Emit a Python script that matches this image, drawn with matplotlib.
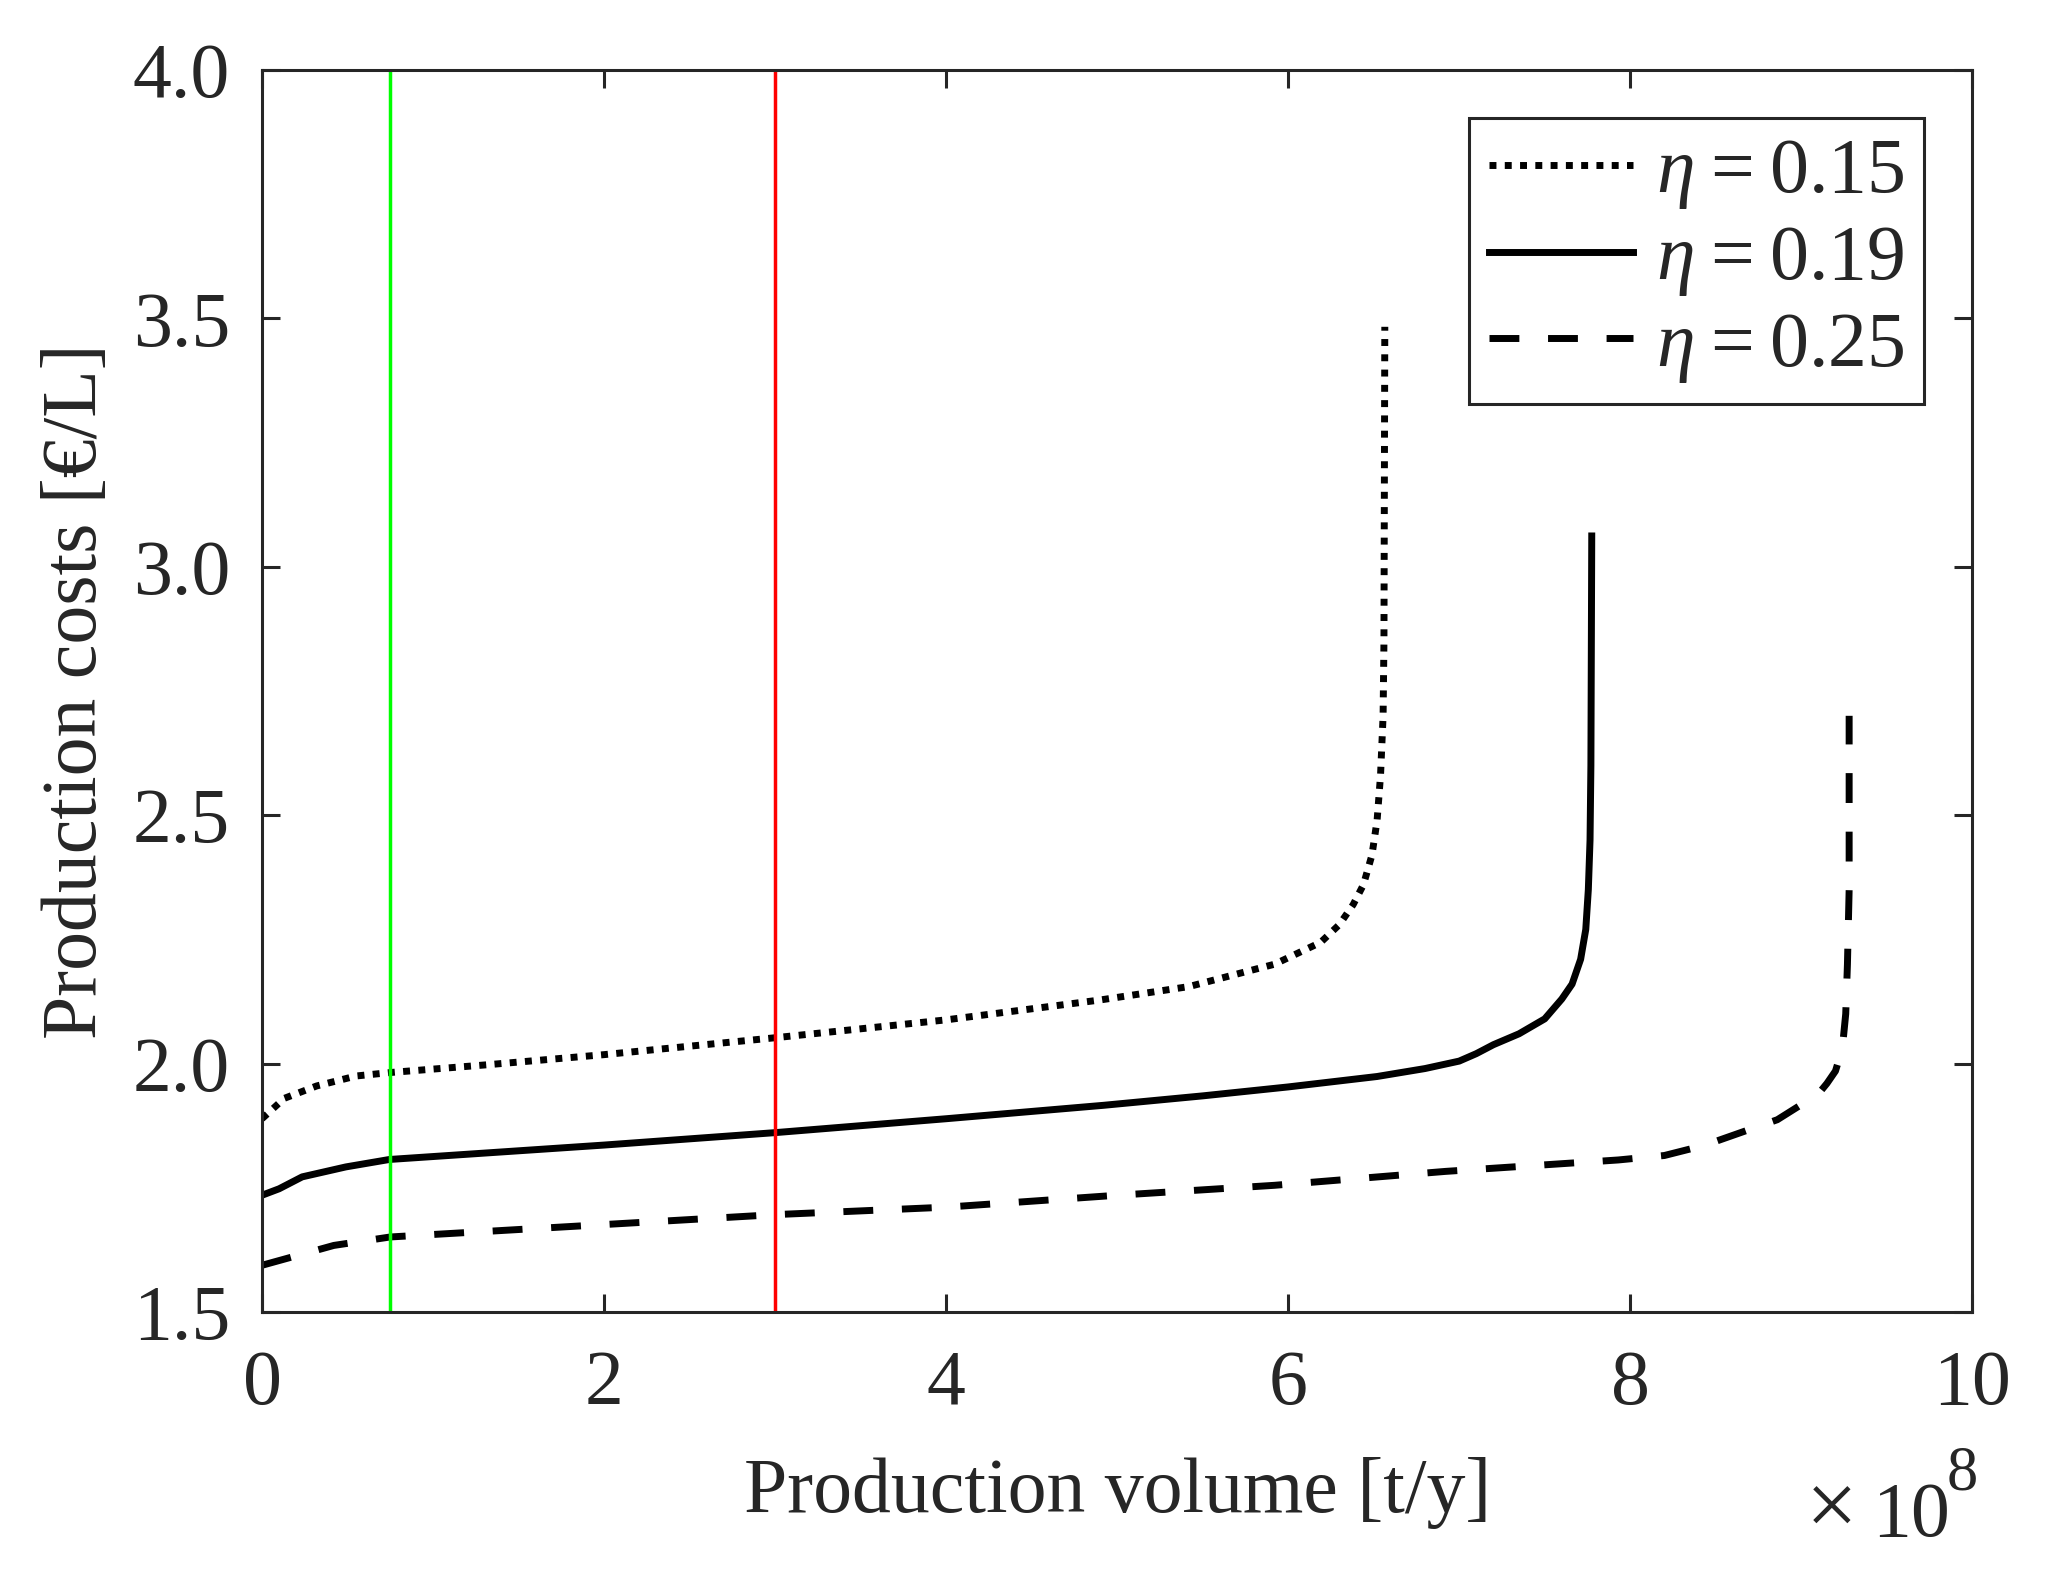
import numpy as np
import matplotlib
matplotlib.use("Agg")
import matplotlib.pyplot as plt

# 数据 (产量单位: 1e8 t/y)
x_015 = [0, 0.13, 0.32, 0.55, 0.75, 1.33, 2.0, 3.0, 4.0, 4.9, 5.42, 5.92, 6.19, 6.3, 6.38, 6.44, 6.49, 6.52, 6.54, 6.555, 6.56, 6.565]
y_015 = [1.889, 1.93, 1.955, 1.975, 1.982, 1.998, 2.018, 2.052, 2.088, 2.128, 2.155, 2.2, 2.244, 2.28, 2.32, 2.36, 2.42, 2.49, 2.58, 2.70, 2.85, 3.483]

x_019 = [0, 0.1, 0.235, 0.49, 0.745, 2.0, 3.0, 4.0, 4.92, 5.5, 6.0, 6.52, 6.8, 7.0, 7.1, 7.2, 7.35, 7.5, 7.6, 7.66, 7.71, 7.74, 7.755, 7.765, 7.77, 7.775]
y_019 = [1.735, 1.748, 1.772, 1.792, 1.807, 1.836, 1.861, 1.889, 1.916, 1.935, 1.953, 1.974, 1.99, 2.005, 2.02, 2.038, 2.06, 2.09, 2.13, 2.16, 2.21, 2.27, 2.35, 2.45, 2.6, 3.062]

x_025 = [0, 0.42, 0.75, 1.9, 3.0, 4.0, 5.0, 5.92, 6.92, 7.93, 8.2, 8.43, 8.86, 9.10, 9.15, 9.2, 9.24, 9.26, 9.27, 9.28, 9.28]
y_025 = [1.594, 1.634, 1.651, 1.674, 1.696, 1.711, 1.735, 1.755, 1.783, 1.806, 1.815, 1.835, 1.887, 1.939, 1.96, 1.985, 2.03, 2.10, 2.2, 2.35, 2.70]

labels = [r"$\eta$" + "\u2009=\u20090.15", r"$\eta$" + "\u2009=\u20090.19", r"$\eta$" + "\u2009=\u20090.25"]
green_x = 0.75
red_x = 3.0

x_ticks = [0, 2, 4, 6, 8, 10]
y_ticks = [1.5, 2.0, 2.5, 3.0, 3.5, 4.0]

dark = "#262626"
plt.rcParams["font.family"] = ["Liberation Serif", "DejaVu Serif"]
plt.rcParams["mathtext.fontset"] = "custom"
plt.rcParams["mathtext.rm"] = "Liberation Serif"
plt.rcParams["mathtext.it"] = "Liberation Serif:italic"
plt.rcParams["font.size"] = 56
plt.rcParams["text.color"] = dark
plt.rcParams["axes.labelcolor"] = dark

fig = plt.figure(figsize=(20.47, 15.79), dpi=100)
ax = fig.add_axes([0.128, 0.1691, 0.8355, 0.7866])

lw = 5
ax.plot(x_015, y_015, color="black", lw=lw, linestyle=(0, (1, 1.2)), label=labels[0])
ax.plot(x_019, y_019, color="black", lw=lw, linestyle="-", label=labels[1])
ax.plot(x_025, y_025, color="black", lw=lw, linestyle=(0, (4.3, 4.13)), label=labels[2])

# 竖线
ax.axvline(green_x, color="#00ff00", lw=2.5)
ax.axvline(red_x, color="#ff0000", lw=2.5)

ax.set_xlim(0, 10)
ax.set_ylim(1.5, 4.0)
ax.set_xticks(x_ticks)
ax.set_xticklabels([str(t) for t in x_ticks])
ax.set_yticks(y_ticks)
ax.set_yticklabels(["%.1f" % t for t in y_ticks])
ax.tick_params(direction="in", length=13, width=2.2, colors=dark, top=True, right=True, pad=23)
ax.tick_params(axis="x", pad=27)
for s in ax.spines.values():
    s.set_linewidth(2.2)
    s.set_color(dark)

ax.set_xlabel("Production volume [t/y]", labelpad=26)
ax.set_ylabel("Production costs [€/L]", labelpad=14)

# 科学计数 x10^8
ax.text(0.933, -0.180, "×", transform=ax.transAxes, ha="right", va="baseline", color=dark, fontsize=66)
ax.text(0.987, -0.180, "10", transform=ax.transAxes, ha="right", va="baseline", color=dark)
ax.text(1.003, -0.143, "8", transform=ax.transAxes, ha="right", va="baseline", color=dark, fontsize=45)

leg = ax.legend(loc="upper right", fancybox=False, framealpha=1, edgecolor=dark,
                handlelength=1.85, handletextpad=0.3, labelspacing=0.17,
                borderpad=0.25, borderaxespad=0.62)
leg.get_frame().set_linewidth(2.2)

fig.savefig("out.png", dpi=100)
